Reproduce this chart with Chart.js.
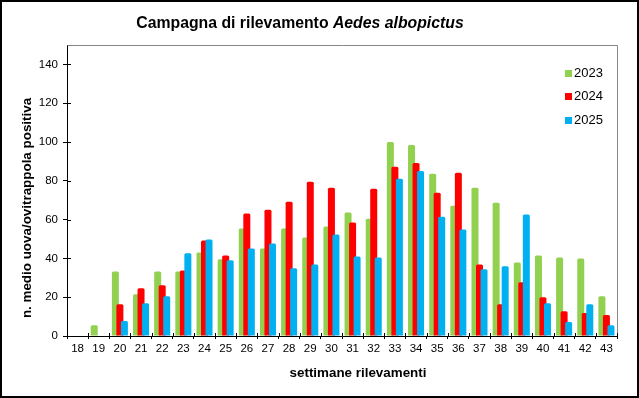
<!DOCTYPE html>
<html>
<head>
<meta charset="utf-8">
<title>Campagna di rilevamento Aedes albopictus</title>
<script src="https://cdn.jsdelivr.net/npm/chart.js@4.4.1/dist/chart.umd.min.js"></script>
<style>
	html, body { margin: 0; padding: 0; background: #fff; }
	#wrap { width: 639px; height: 398px; }
</style>
</head>
<body>
<div id="wrap"><canvas id="mosquitoChart" width="639" height="398"></canvas></div>
<script>
// ===== DATA =====
const weeks = ['18', '19', '20', '21', '22', '23', '24', '25', '26', '27', '28', '29', '30',
	'31', '32', '33', '34', '35', '36', '37', '38', '39', '40', '41', '42', '43'];
const years = ['2023', '2024', '2025'];
const values2023 = [null, 5.6, 33.3, 21.5, 33.3, 33.3, 43.1, 39.5, 55.4, 45.1, 55.4, 50.8, 56.4,
	63.6, 60.5, 100, 98.5, 83.6, 67.2, 76.4, 68.7, 37.9, 41.5, 40.5, 40, 20.5];
const values2024 = [null, null, 16.4, 24.6, 26.2, 33.8, 49.2, 41.5, 63.1, 65.1, 69.2, 79.5, 76.4,
	58.5, 75.9, 87.2, 89.2, 73.8, 84.1, 36.9, 16.4, 27.7, 20, 12.8, 11.8, 10.8];
const values2025 = [null, null, 7.7, 16.9, 20.5, 42.6, 49.7, 39, 45.1, 47.7, 34.9, 36.9, 52.3,
	41, 40.5, 81, 85.1, 61.5, 54.9, 34.4, 35.9, 62.6, 16.9, 7.2, 16.4, 5.6];
const yTicks = [0, 20, 40, 60, 80, 100, 120, 140];

const colors = ['#92D050', '#FF0000', '#00B0F0'];
const FONT = 'Arial, "Liberation Sans", sans-serif';

// ===== PLUGINS =====
// draw datasets left to right so the later year overlaps the earlier one
const drawInOrder = {
	id: 'drawInOrder',
	beforeDatasetDraw() { return false; },
	afterDatasetsDraw(chart) {
		chart.data.datasets.forEach((ds, i) => {
			const meta = chart.getDatasetMeta(i);
			if (!meta.hidden) meta.controller.draw();
		});
	}
};

const decorations = {
	id: 'decorations',
	beforeDraw(chart) {
		const ctx = chart.ctx;
		ctx.save();
		ctx.fillStyle = '#fff';
		ctx.fillRect(0, 0, chart.width, chart.height);
		ctx.restore();
	},
	afterDraw(chart) {
		const ctx = chart.ctx;
		const area = chart.chartArea;
		const x = chart.scales.x;
		const y = chart.scales.y;
		ctx.save();

		// frame top + right
		ctx.strokeStyle = '#868686';
		ctx.lineWidth = 1;
		ctx.beginPath();
		ctx.moveTo(Math.round(area.left) + 0.5, Math.round(area.top) + 0.5);
		ctx.lineTo(Math.round(area.right) + 0.5, Math.round(area.top) + 0.5);
		ctx.lineTo(Math.round(area.right) + 0.5, Math.round(area.bottom));
		ctx.stroke();

		// inner half of the tick marks
		ctx.strokeStyle = '#000';
		ctx.beginPath();
		yTicks.forEach(v => {
			const py = Math.round(y.getPixelForValue(v)) + 0.5;
			ctx.moveTo(area.left, py);
			ctx.lineTo(area.left + 4, py);
		});
		const step = (area.right - area.left) / weeks.length;
		for (let i = 0; i <= weeks.length; i++) {
			const px = Math.round(area.left + i * step) + 0.5;
			ctx.moveTo(px, area.bottom);
			ctx.lineTo(px, area.bottom - 3);
		}
		ctx.stroke();

		// legend
		ctx.font = '13px ' + FONT;
		ctx.textBaseline = 'middle';
		ctx.textAlign = 'left';
		chart.data.datasets.forEach((ds, i) => {
			const ly = 73.5 + i * 23.3;
			ctx.fillStyle = ds.backgroundColor;
			ctx.fillRect(565, Math.round(ly - 3.5), 7, 7);
			ctx.fillStyle = '#000';
			ctx.fillText(ds.label, 574, ly);
		});

		// title
		const part1 = 'Campagna di rilevamento ';
		const part2 = 'Aedes albopictus';
		ctx.font = 'bold 15.8px ' + FONT;
		const w1 = ctx.measureText(part1).width;
		ctx.font = 'italic bold 15.8px ' + FONT;
		const w2 = ctx.measureText(part2).width;
		let tx = 300 - (w1 + w2) / 2;
		ctx.textBaseline = 'alphabetic';
		ctx.font = 'bold 15.8px ' + FONT;
		ctx.fillText(part1, tx, 28.3);
		ctx.font = 'italic bold 15.8px ' + FONT;
		ctx.fillText(part2, tx + w1, 28.3);

		// axis titles
		ctx.font = 'bold 13.4px ' + FONT;
		ctx.textAlign = 'center';
		ctx.textBaseline = 'middle';
		ctx.fillText('settimane rilevamenti', 358, 373);
		ctx.save();
		ctx.translate(27, 208);
		ctx.rotate(-Math.PI / 2);
		ctx.fillText('n. medio uova/ovitrappola positiva', 0, 0);
		ctx.restore();

		// outer border
		ctx.strokeStyle = '#000';
		ctx.lineWidth = 2;
		ctx.strokeRect(1, 1, chart.width - 2, chart.height - 2);
		ctx.restore();
	}
};

// ===== CHART =====
const ctx = document.getElementById('mosquitoChart').getContext('2d');
const seriesValues = [values2023, values2024, values2025];

new Chart(ctx, {
	type: 'bar',
	data: {
		labels: weeks,
		datasets: years.map((year, i) => ({
			label: year,
			data: seriesValues[i],
			backgroundColor: colors[i],
			borderWidth: 0,
			borderRadius: { topLeft: 1.5, topRight: 1.5, bottomLeft: 0, bottomRight: 0 },
			borderSkipped: 'start',
			categoryPercentage: 0.64,
			barPercentage: 1.55
		}))
	},
	options: {
		responsive: false,
		animation: false,
		devicePixelRatio: 1,
		layout: {
			padding: { top: 45, right: 22, bottom: 0, left: 0 }
		},
		plugins: {
			legend: { display: false },
			title: { display: false },
			tooltip: { enabled: false }
		},
		scales: {
			x: {
				grid: {
					display: true,
					drawOnChartArea: false,
					offset: true,
					color: '#000',
					tickLength: 3
				},
				border: { display: true, color: '#000', width: 1 },
				ticks: {
					color: '#000',
					font: { size: 11.5, family: FONT },
					padding: 3,
					maxRotation: 0,
					autoSkip: false
				},
				afterFit(scale) { scale.height = 62; }
			},
			y: {
				min: 0,
				max: 150,
				grid: {
					display: true,
					drawOnChartArea: false,
					color: '#000',
					tickLength: 4
				},
				border: { display: true, color: '#000', width: 1 },
				ticks: {
					color: '#000',
					font: { size: 11.5, family: FONT },
					padding: 5
				},
				afterBuildTicks(scale) {
					scale.ticks = yTicks.map(v => ({ value: v }));
				},
				afterFit(scale) { scale.width = 67; }
			}
		}
	},
	plugins: [drawInOrder, decorations]
});
</script>
</body>
</html>
